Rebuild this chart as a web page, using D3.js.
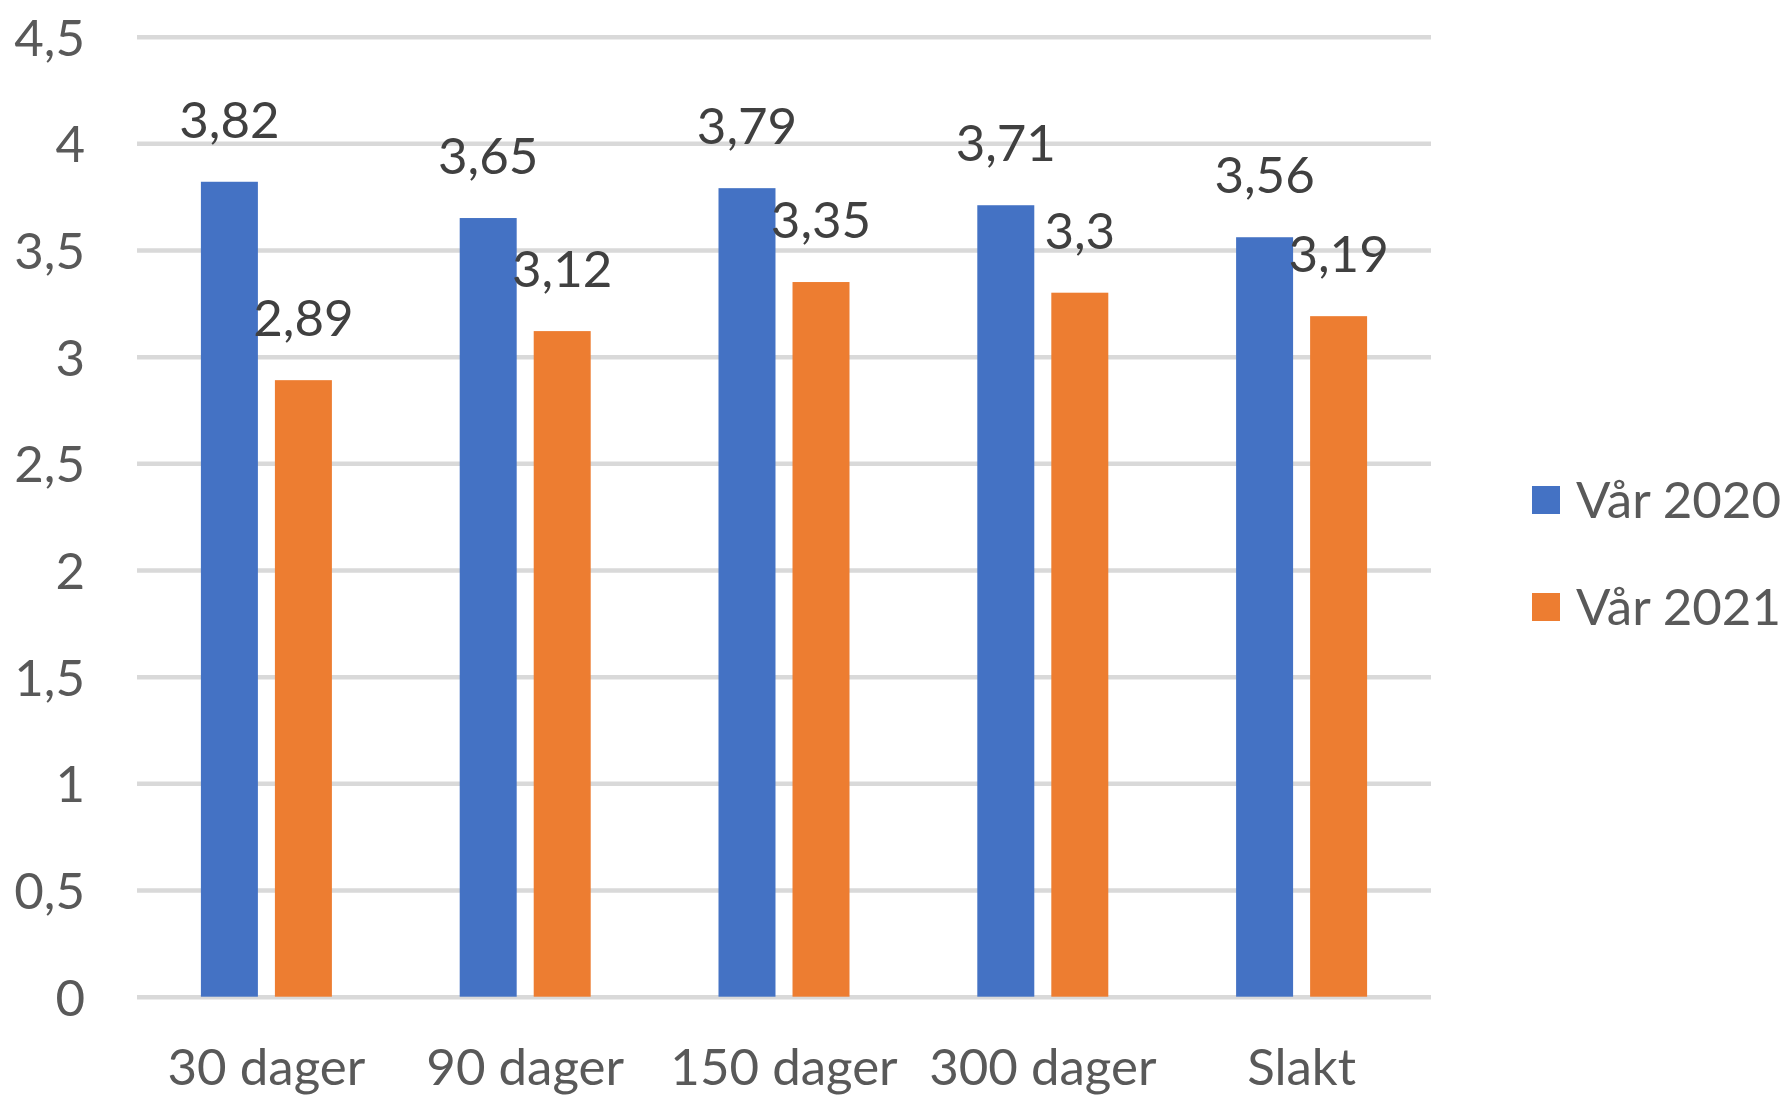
<!DOCTYPE html>
<html>
<head>
<meta charset="utf-8">
<script src="https://cdn.jsdelivr.net/npm/d3@7"></script>
<style>
  html, body { margin: 0; padding: 0; background: #ffffff; }
  svg { display: block; }
  text { font-family: Lato, "Open Sans", sans-serif; }
</style>
</head>
<body>
<svg id="chart" width="1787" height="1097"></svg>
<script>
// Categories along the x axis
const categories = ["30 dager", "90 dager", "150 dager", "300 dager", "Slakt"];
// Series names (legend)
const seriesNames = ["Vår 2020", "Vår 2021"];
// Values per series, one per category
const var2020 = [3.82, 3.65, 3.79, 3.71, 3.56];
const var2021 = [2.89, 3.12, 3.35, 3.30, 3.19];
// Y axis tick values
const yTicks = [0, 0.5, 1, 1.5, 2, 2.5, 3, 3.5, 4, 4.5];

const seriesValues = [var2020, var2021];
const colors = ["#4472C4", "#ED7D31"];

const svg = d3.select("#chart");
const fontSize = 51;

const plot = { left: 137, right: 1431, top: 36.7, bottom: 996.7 };

// Norwegian number format: comma as decimal separator
const nb = d3.formatLocale({ decimal: ",", thousands: " ", grouping: [3], currency: ["", " kr"] });
const fmt = nb.format("~g");

const y = d3.scaleLinear().domain([0, 4.5]).range([plot.bottom, plot.top]);
const x = d3.scaleBand().domain(categories).range([plot.left, plot.right]).paddingInner(0).paddingOuter(0);
const groupWidth = 131;
const xs = d3.scaleBand().domain(seriesNames).range([-groupWidth / 2, groupWidth / 2]).paddingInner(0.23).paddingOuter(0);

// Y axis with horizontal gridlines
const yAxis = d3.axisLeft(y)
  .tickValues(yTicks)
  .tickFormat(fmt)
  .tickSize(-(plot.right - plot.left))
  .tickPadding(52);

const gy = svg.append("g")
  .attr("transform", `translate(${plot.left},0)`)
  .call(yAxis);
gy.select(".domain").remove();
gy.selectAll(".tick line")
  .attr("stroke", "#d9d9d9")
  .attr("stroke-width", 4.5);
gy.selectAll(".tick text")
  .attr("fill", "#595959")
  .attr("font-size", fontSize)
  .attr("dy", "0.36em");

// X axis category labels
const xAxis = d3.axisBottom(x).tickSize(0).tickPadding(0);
const gx = svg.append("g")
  .attr("transform", `translate(0,${plot.bottom})`)
  .call(xAxis);
gx.select(".domain").remove();
gx.selectAll(".tick text")
  .attr("fill", "#595959")
  .attr("font-size", fontSize)
  .attr("y", 88)
  .attr("dy", 0);

// Bars
const rows = [];
categories.forEach((c, i) => {
  seriesNames.forEach((s, j) => {
    rows.push({ cat: c, series: s, value: seriesValues[j][i], color: colors[j] });
  });
});

const bars = svg.append("g");
bars.selectAll("rect")
  .data(rows)
  .join("rect")
  .attr("x", d => x(d.cat) + x.bandwidth() / 2 + xs(d.series))
  .attr("width", xs.bandwidth())
  .attr("y", d => y(d.value))
  .attr("height", d => y(0) - y(d.value))
  .attr("fill", d => d.color);

// Value labels above each bar
const labels = svg.append("g");
labels.selectAll("text")
  .data(rows)
  .join("text")
  .attr("x", d => x(d.cat) + x.bandwidth() / 2 + xs(d.series) + xs.bandwidth() / 2)
  .attr("y", d => y(d.value) - 44)
  .attr("text-anchor", "middle")
  .attr("fill", "#404040")
  .attr("font-size", fontSize)
  .text(d => fmt(d.value));

// Legend
const legend = svg.append("g").attr("transform", "translate(1532,0)");
const legendY = [500, 607];
seriesNames.forEach((s, j) => {
  legend.append("rect")
    .attr("x", 0)
    .attr("y", legendY[j] - 14)
    .attr("width", 28)
    .attr("height", 28)
    .attr("fill", colors[j]);
  legend.append("text")
    .attr("x", 44)
    .attr("y", legendY[j])
    .attr("dy", "0.36em")
    .attr("fill", "#595959")
    .attr("font-size", fontSize)
    .text(s);
});
</script>
</body>
</html>
